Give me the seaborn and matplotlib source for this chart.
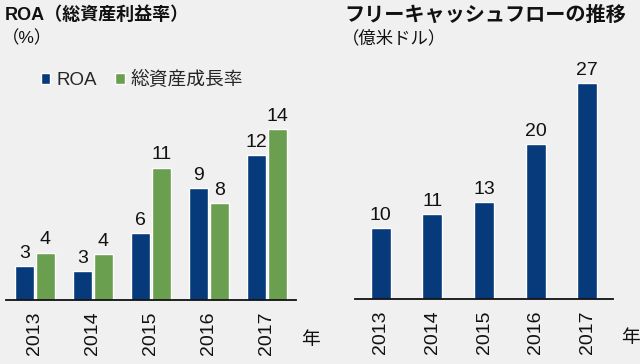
import matplotlib
matplotlib.use("Agg")
import matplotlib.pyplot as plt
import seaborn as sns
import pandas as pd
from matplotlib.patches import Patch

years = ["2013", "2014", "2015", "2016", "2017"]
roa = [2.8, 2.4, 5.5, 9.2, 11.9]
asset_growth = [3.9, 3.8, 10.9, 8.0, 14.1]
roa_labels = ["3", "3", "6", "9", "12"]
growth_labels = ["4", "4", "11", "8", "14"]
fcf = [9.0, 10.8, 12.3, 19.6, 27.3]
fcf_labels = ["10", "11", "13", "20", "27"]

series_names = ["ROA", "総資産成長率"]
BLUE = "#063a7a"
GREEN = "#6a9f50"
BG = "#f0f0f0"

sns.set_theme(style="white")
plt.rcParams["font.family"] = ["Liberation Sans", "Noto Sans CJK JP"]

W, H = 640, 364
fig = plt.figure(figsize=(6.4, 3.64), dpi=100, facecolor=BG)

def box(x0, x1, ybot, ytop):
    return [x0 / W, (H - ybot) / H, (x1 - x0) / W, (ybot - ytop) / H]

# left chart
ax1 = fig.add_axes(box(6, 296, 300, 100))
ax1.set_facecolor(BG)
df1 = pd.DataFrame({
    "year": years * 2,
    "value": roa + asset_growth,
    "series": [series_names[0]] * 5 + [series_names[1]] * 5,
})
sns.barplot(data=df1, x="year", y="value", hue="series", palette=[BLUE, GREEN],
            width=0.72, gap=0.08, saturation=1, ax=ax1, legend=False)
ax1.set_ylim(0, 200 / 12.15)
for cont, labs in zip(ax1.containers, [roa_labels, growth_labels]):
    ax1.bar_label(cont, labels=labs, padding=3, fontsize=14, color="#111111")

# right chart
ax2 = fig.add_axes(box(355, 613, 299, 60))
ax2.set_facecolor(BG)
df2 = pd.DataFrame({"year": years, "value": fcf})
sns.barplot(data=df2, x="year", y="value", color=BLUE, width=0.39, ax=ax2,
            saturation=1)
ax2.set_ylim(0, 239 / 7.9)
ax2.bar_label(ax2.containers[0], labels=fcf_labels, padding=3, fontsize=14,
              color="#111111")

for ax in (ax1, ax2):
    for s in ("top", "right", "left"):
        ax.spines[s].set_visible(False)
    ax.spines["bottom"].set_color("#111111")
    ax.spines["bottom"].set_linewidth(1.3)
    ax.set_xlabel("")
    ax.set_ylabel("")
    ax.set_yticks([])
    ax.tick_params(axis="x", length=0, pad=8, labelsize=14, labelrotation=90,
                   colors="#111111")

# legend
handles = [Patch(facecolor=BLUE), Patch(facecolor=GREEN)]
fig.legend(handles, series_names, loc="center left",
           bbox_to_anchor=(41 / W, 1 - 80 / H), ncol=2, frameon=False,
           fontsize=13.5, handlelength=0.5, handleheight=0.5,
           handletextpad=0.3, columnspacing=1.0, borderaxespad=0,
           borderpad=0)

# titles
fig.text(5 / W, 1 - 15 / H, "ROA（総資産利益率）", fontsize=13, fontweight="bold",
         va="center", ha="left", color="#111111")
fig.text(2 / W, 1 - 38 / H, "（%）", fontsize=12.5, va="center", ha="left",
         color="#111111")
fig.text(344 / W, 1 - 15 / H, "フリーキャッシュフローの推移", fontsize=14.5,
         fontweight="bold", va="center", ha="left", color="#111111")
fig.text(342 / W, 1 - 38 / H, "（億米ドル）", fontsize=12.5, va="center",
         ha="left", color="#111111")
fig.text(310 / W, 1 - 340 / H, "年", fontsize=13.5, va="center", ha="center",
         color="#111111")
fig.text(630 / W, 1 - 338 / H, "年", fontsize=13.5, va="center", ha="center",
         color="#111111")

fig.savefig("out.png", dpi=100, facecolor=BG)
